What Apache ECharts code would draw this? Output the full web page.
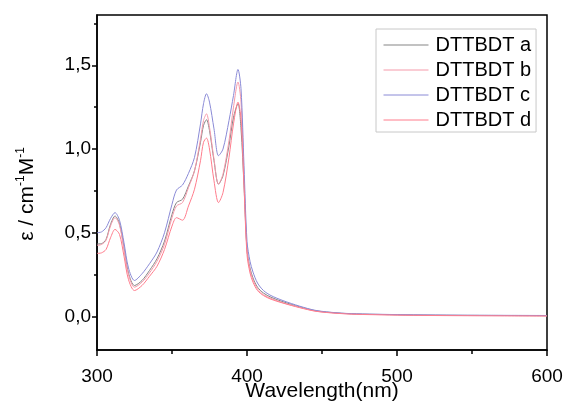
<!DOCTYPE html>
<html lang="en">
<head>
    <meta charset="UTF-8">
    <title>DTTBDT</title>
    <script src="https://cdn.jsdelivr.net/npm/echarts@6/dist/echarts.min.js"></script>
    <style>
        html, body { margin: 0; padding: 0; background: #fff; }
        #chart { width: 568px; height: 407px; }
    </style>
</head>
<body>
<div id="chart"></div>

<script>
    var wavelength = [300, 303, 306, 309, 312, 315, 318, 321, 325, 330, 335, 340, 345, 350, 353, 357, 361, 365,
        369, 371, 373, 375, 378, 381, 384, 388, 391, 394, 396, 398, 400, 402, 404, 407, 411, 416, 424, 435,
        446, 460, 473, 490, 511, 540, 570, 600];

    var dttbdtA = [0.433, 0.435, 0.46, 0.55, 0.60, 0.555, 0.41, 0.26, 0.185, 0.215, 0.275, 0.345, 0.45, 0.61, 0.68, 0.70, 0.78, 0.87,
        1.04, 1.14, 1.175, 1.11, 0.93, 0.79, 0.84, 1.02, 1.19, 1.27, 1.12, 0.78, 0.40, 0.29, 0.23, 0.175, 0.14, 0.115, 0.088, 0.058,
        0.034, 0.021, 0.015, 0.012, 0.009, 0.007, 0.006, 0.005];
    var dttbdtB = [0.425, 0.43, 0.455, 0.54, 0.59, 0.545, 0.40, 0.25, 0.175, 0.205, 0.26, 0.33, 0.43, 0.59, 0.66, 0.68, 0.77, 0.87,
        1.06, 1.17, 1.21, 1.13, 0.94, 0.79, 0.85, 1.05, 1.25, 1.40, 1.28, 0.84, 0.40, 0.28, 0.22, 0.165, 0.13, 0.108, 0.082, 0.055,
        0.032, 0.02, 0.014, 0.011, 0.008, 0.006, 0.005, 0.004];
    var dttbdtC = [0.50, 0.505, 0.53, 0.585, 0.62, 0.575, 0.44, 0.29, 0.215, 0.255, 0.315, 0.385, 0.50, 0.67, 0.755, 0.785, 0.855, 0.95,
        1.15, 1.27, 1.33, 1.28, 1.12, 0.96, 1.00, 1.17, 1.32, 1.475, 1.36, 0.90, 0.45, 0.33, 0.265, 0.20, 0.155, 0.125, 0.095, 0.062,
        0.036, 0.022, 0.016, 0.013, 0.010, 0.008, 0.007, 0.006];
    var dttbdtD = [0.377, 0.38, 0.40, 0.47, 0.52, 0.49, 0.36, 0.22, 0.155, 0.185, 0.24, 0.30, 0.40, 0.54, 0.59, 0.575, 0.66, 0.76,
        0.93, 1.04, 1.065, 1.0, 0.81, 0.68, 0.74, 0.95, 1.15, 1.28, 1.18, 0.78, 0.37, 0.26, 0.205, 0.155, 0.125, 0.103, 0.08, 0.053,
        0.031, 0.019, 0.013, 0.01, 0.007, 0.005, 0.004, 0.003];

    var seriesNames = ['DTTBDT a', 'DTTBDT b', 'DTTBDT c', 'DTTBDT d'];
    var seriesColors = ['#858585', '#f59aaa', '#8a8ad6', '#ff7c8c'];
    var xLabels = [300, 400, 500, 600];
    var yLabels = [0, 0.5, 1.0, 1.5];
    var yMinorTicks = [0.25, 0.75, 1.25, 1.75];

    function pairs(ys) {
        return wavelength.map(function (x, i) { return [x, ys[i]]; });
    }

    var myChart = echarts.init(document.getElementById('chart'));
    var font = 'Liberation Sans, Arial, sans-serif';

    var option = {
        animation: false,
        color: seriesColors,
        grid: {
            left: 97, right: 21, top: 15, bottom: 57,
            outerBoundsMode: 'none',
            show: true,
            borderColor: '#000',
            borderWidth: 1.5
        },
        legend: {
            data: seriesNames,
            orient: 'vertical',
            left: 376,
            top: 29,
            width: 164,
            padding: [6, 5, 2, 7],
            itemGap: 5,
            itemWidth: 45,
            itemHeight: 20,
            itemStyle: {opacity: 0},
            lineStyle: {width: 1},
            borderColor: '#c8c8c8',
            borderWidth: 1,
            backgroundColor: '#fff',
            textStyle: {fontFamily: font, fontSize: 20, color: '#000', padding: [0, 0, 0, 2]}
        },
        xAxis: {
            type: 'value',
            min: 300,
            max: 600,
            interval: 100,
            name: 'Wavelength(nm)',
            nameLocation: 'middle',
            nameGap: 31,
            nameMoveOverlap: false,
            nameTextStyle: {fontFamily: font, fontSize: 21, color: '#000'},
            axisLine: {onZero: false, lineStyle: {color: '#000', width: 1.5}},
            axisTick: {length: 6, lineStyle: {color: '#000', width: 1.5}},
            minorTick: {show: true, splitNumber: 2, length: 4, lineStyle: {color: '#000', width: 1.5}},
            axisLabel: {
                customValues: xLabels,
                margin: 17,
                fontFamily: font, fontSize: 19, color: '#000'
            },
            splitLine: {show: false}
        },
        yAxis: [{
            type: 'value',
            min: -0.2,
            max: 1.8,
            position: 'left',
            axisLine: {onZero: false, lineStyle: {color: '#000', width: 1.5}},
            axisTick: {customValues: yLabels, length: 5, lineStyle: {color: '#000', width: 1.5}},
            axisLabel: {
                customValues: yLabels,
                margin: 6,
                fontFamily: font, fontSize: 19, color: '#000',
                formatter: function (v) { return v.toFixed(1).replace('.', ','); }
            },
            splitLine: {show: false}
        }, {
            type: 'value',
            min: -0.2,
            max: 1.8,
            position: 'left',
            offset: 0,
            axisLine: {show: false},
            axisTick: {customValues: yMinorTicks, length: 3, lineStyle: {color: '#000', width: 1.5}},
            axisLabel: {show: false},
            splitLine: {show: false}
        }],
        graphic: [{
            type: 'text',
            x: 27,
            y: 194,
            rotation: Math.PI / 2,
            style: {
                text: '{a|ε / cm}{s|-1}{a|M}{s|-1}',
                align: 'center',
                verticalAlign: 'middle',
                fill: '#000',
                rich: {
                    a: {fontFamily: font, fontSize: 21, fill: '#000'},
                    s: {fontFamily: font, fontSize: 12, fill: '#000', padding: [0, 0, 12, 0]}
                }
            }
        }],
        series: [dttbdtA, dttbdtB, dttbdtC, dttbdtD].map(function (ys, i) {
            return {
                name: seriesNames[i],
                type: 'line',
                smooth: 0.3,
                symbol: 'none',
                lineStyle: {width: 1},
                data: pairs(ys)
            };
        })
    };

    myChart.setOption(option);
</script>
</body>
</html>
